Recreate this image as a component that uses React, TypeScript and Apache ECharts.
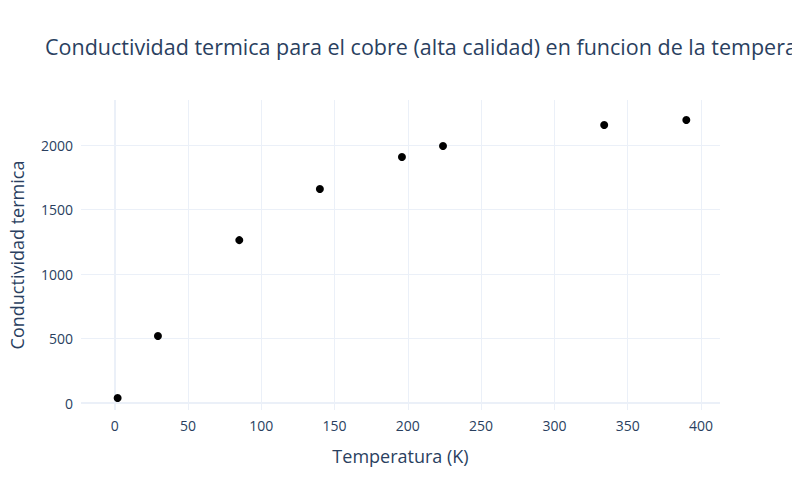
import React, { useEffect, useRef } from "react";
import * as echarts from "echarts";

const temperatures = [2, 29.5, 85, 140, 196, 224, 334, 390];
const conductivity = [39, 519, 1263, 1659, 1907, 1992, 2155, 2194];
const xTicks = [0, 50, 100, 150, 200, 250, 300, 350, 400];
const yTicks = [0, 500, 1000, 1500, 2000];

export default function App() {
  const ref = useRef<HTMLDivElement>(null);
  useEffect(() => {
    const chart = echarts.init(ref.current!, null, { renderer: "svg" });
    const font = "'Open Sans', 'Noto Sans', sans-serif";
    chart.setOption({
      animation: false,
      textStyle: { fontFamily: font },
      title: {
        text: "Conductividad termica para el cobre (alta calidad) en funcion de la temperatura",
        left: 40,
        top: 30,
        textStyle: { fontSize: 21.5, fontWeight: "normal", color: "#2a3f5f", fontFamily: font },
      },
      grid: { left: 80, right: 80, top: 100, bottom: 90 },
      xAxis: {
        type: "value",
        min: -23,
        max: 413,
        name: "Temperatura (K)",
        nameLocation: "middle",
        nameGap: 37,
        nameTextStyle: { fontSize: 18, color: "#2a3f5f" },
        axisLine: { show: false },
        axisTick: { show: false },
        axisLabel: { color: "#2a3f5f", fontSize: 14, customValues: xTicks },
        splitLine: { show: false },
      },
      yAxis: {
        type: "value",
        min: -54,
        max: 2349,
        name: "Conductividad termica",
        nameLocation: "middle",
        nameGap: 55,
        nameTextStyle: { fontSize: 18, color: "#2a3f5f" },
        axisLine: { show: false },
        axisTick: { show: false },
        axisLabel: {
          color: "#2a3f5f",
          fontSize: 14,
          customValues: yTicks,
          formatter: (v: number) => String(v),
        },
        splitLine: { show: false },
      },
      series: [
        {
          type: "scatter",
          data: [],
          z: 1,
          markLine: {
            silent: true,
            symbol: "none",
            label: { show: false },
            lineStyle: { color: "#EBF0F8", type: "solid", width: 1 },
            data: [
              ...xTicks.slice(1).map((v) => ({ xAxis: v })),
              ...yTicks.slice(1).map((v) => ({ yAxis: v })),
              { xAxis: 0, lineStyle: { width: 2, color: "#EBF0F8" } },
              { yAxis: 0, lineStyle: { width: 2, color: "#EBF0F8" } },
            ],
          },
        },
        {
          type: "scatter",
          data: temperatures.map((t, i) => [t, conductivity[i]]),
          symbolSize: 8,
          itemStyle: { color: "#000", opacity: 1 },
          z: 5,
        },
      ],
    });
    return () => chart.dispose();
  }, []);
  return <div ref={ref} style={{ width: 800, height: 500, margin: -8 }} />;
}
